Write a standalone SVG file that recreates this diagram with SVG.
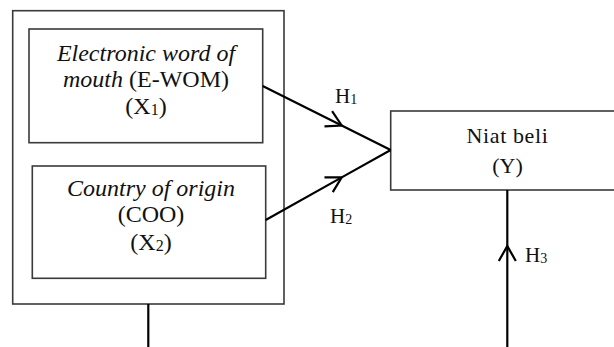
<svg xmlns="http://www.w3.org/2000/svg" width="614" height="347" viewBox="0 0 614 347">
  <style>
    .box { fill: #ffffff; stroke: #3a3a3a; stroke-width: 1.6; }
    .link { fill: none; stroke: #000000; stroke-width: 2.2; }
    .t { font-family: "Liberation Serif", serif; fill: #111111; text-anchor: middle; }
    .it { font-family: "Liberation Serif", serif; font-style: oblique; }
    .lbl { font-family: "Liberation Serif", serif; fill: #111111; font-size: 21px; }
  </style>
  <defs>
    <!-- open chevron placed at the middle vertex of each connector -->
    <marker id="chev" viewBox="-18 -11 20 22" refX="0" refY="0" markerWidth="20" markerHeight="22" markerUnits="userSpaceOnUse" orient="auto">
      <path d="M-15,-8.5 L0,0 L-15,8.5" fill="none" stroke="#000000" stroke-width="2.2" stroke-linejoin="miter"/>
    </marker>
  </defs>

  <rect width="614" height="347" fill="#ffffff"/>

  <!-- outer frame grouping the two independent variables -->
  <g id="frame">
    <rect class="box" x="12.7" y="10.7" width="271.3" height="293.3"/>
  </g>

  <g id="x1">
    <rect class="box" x="29" y="29" width="233.7" height="113.7"/>
    <text class="t" x="146" y="61" font-size="24"><tspan class="it">Electronic word of</tspan></text>
    <text class="t" x="146" y="87" font-size="24"><tspan class="it">mouth</tspan> (E-WOM)</text>
    <text class="t" x="146" y="114" font-size="24">(X<tspan font-size="16" dy="1">1</tspan><tspan dy="-1">)</tspan></text>
  </g>

  <g id="x2">
    <rect class="box" x="32.3" y="166" width="233.4" height="112.3"/>
    <text class="t" x="151" y="196" font-size="24"><tspan class="it">Country of origin</tspan></text>
    <text class="t" x="151" y="222" font-size="24">(COO)</text>
    <text class="t" x="151" y="250" font-size="24">(X<tspan font-size="16" dy="1">2</tspan><tspan dy="-1">)</tspan></text>
  </g>

  <g id="y">
    <rect class="box" x="390.7" y="111" width="240" height="79"/>
    <text class="t" x="507.5" y="143" font-size="22" letter-spacing="0.6">Niat beli</text>
    <text class="t" x="507.5" y="173" font-size="22">(Y)</text>
  </g>

  <g id="connectors">
    <path class="link" d="M262.7,86 L341.7,125.5 L390.7,150" marker-mid="url(#chev)"/>
    <path class="link" d="M265.7,220 L341.7,177.4 L390.7,150" marker-mid="url(#chev)"/>
    <path class="link" d="M148.3,304 L148.3,347"/>
    <path class="link" d="M507.3,347 L507.3,246 L507.3,190" marker-mid="url(#chev)"/>
  </g>

  <g id="labels">
    <text class="lbl" x="335" y="103">H<tspan font-size="14" dy="1">1</tspan></text>
    <text class="lbl" x="330" y="223">H<tspan font-size="14" dy="1">2</tspan></text>
    <text class="lbl" x="525" y="262">H<tspan font-size="14" dy="1">3</tspan></text>
  </g>
</svg>
